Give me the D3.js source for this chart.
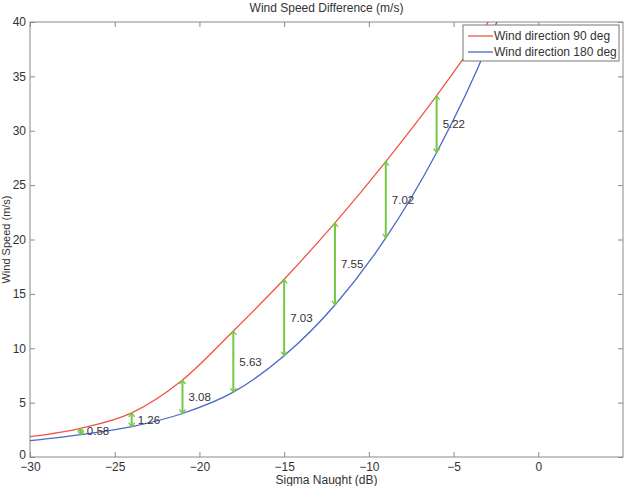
<!DOCTYPE html>
<html>
<head>
<meta charset="utf-8">
<script src="https://cdn.jsdelivr.net/npm/d3@7"></script>
<style>
  body { margin: 0; background: #fff; }
  text { font-family: "Liberation Sans", Arial, sans-serif; fill: #333; }
</style>
</head>
<body>
<div id="chart"></div>
<script>
// values
var sigma = [-30, -27, -24, -21, -18, -15, -12, -9, -6, -3, -2];
var speed90 = [1.87, 2.64, 4.05, 7.08, 11.59, 16.34, 21.53, 27.16, 33.22, 39.9, 42.3];
var speed180 = [1.50, 2.06, 2.79, 4.00, 5.96, 9.31, 13.98, 20.14, 28.0, 37.85, 41.8];
var arrowX = [-27, -24, -21, -18, -15, -12, -9, -6];
var diffLabels = ["0.58", "1.26", "3.08", "5.63", "7.03", "7.55", "7.02", "5.22"];
var xTicks = [-30, -25, -20, -15, -10, -5, 0];
var yTicks = [0, 5, 10, 15, 20, 25, 30, 35, 40];
var seriesNames = ["Wind direction 90 deg", "Wind direction 180 deg"];
var seriesColors = ["#ef5545", "#4a68c8"];

var W = 629, H = 486;
var margin = { top: 22, right: 6, bottom: 29, left: 30 },
    width = W - margin.left - margin.right,
    height = H - margin.top - margin.bottom;

var root = d3.select("#chart").append("svg")
    .attr("width", W)
    .attr("height", H);

var svg = root.append("g")
    .attr("transform", `translate(${margin.left},${margin.top})`);

var x = d3.scaleLinear().domain([-30, 5]).range([0, width]);
var y = d3.scaleLinear().domain([0, 40]).range([height, 0]);

svg.append("clipPath").attr("id", "clip")
    .append("rect").attr("width", width).attr("height", height);

// Axes (matlab style: inward ticks on all four sides)
var axisColor = "#8a8a8a";
function styleAxis(g) {
    g.select(".domain").remove();
    g.selectAll(".tick line").attr("stroke", axisColor);
    g.selectAll(".tick text").style("font-size", "12px").attr("fill", "#333");
}
svg.append("g")
    .attr("transform", `translate(0,${height})`)
    .call(d3.axisBottom(x).tickValues(xTicks).tickSizeInner(-5).tickSizeOuter(0).tickPadding(5))
    .call(styleAxis);
svg.append("g")
    .call(d3.axisTop(x).tickValues(xTicks).tickSizeInner(-5).tickSizeOuter(0).tickFormat(""))
    .call(styleAxis);
var yAxisG = svg.append("g")
    .call(d3.axisLeft(y).tickValues(yTicks).tickSizeInner(-5).tickSizeOuter(0).tickPadding(4))
    .call(styleAxis);
// lift the "0" a little so it sits above "-30" as in the original
yAxisG.selectAll(".tick text").filter(d => d === 0).attr("dy", "0.1em");
svg.append("g")
    .attr("transform", `translate(${width},0)`)
    .call(d3.axisRight(y).tickValues(yTicks).tickSizeInner(-5).tickSizeOuter(0).tickFormat(""))
    .call(styleAxis);

svg.append("rect")
    .attr("width", width).attr("height", height)
    .attr("fill", "none").attr("stroke", axisColor).attr("stroke-width", 1);

// Curves
var line = d3.line()
    .x(d => x(d[0]))
    .y(d => y(d[1]))
    .curve(d3.curveMonotoneX);

[speed90, speed180].forEach(function (vals, i) {
    svg.append("path")
        .datum(sigma.map((s, k) => [s, vals[k]]))
        .attr("clip-path", "url(#clip)")
        .attr("fill", "none")
        .attr("stroke", seriesColors[i])
        .attr("stroke-width", 1.3)
        .attr("d", line);
});

// Difference arrows
var green = "#74c944";
arrowX.forEach(function (ax, i) {
    var k = sigma.indexOf(ax);
    var px = x(ax), yTop = y(speed90[k]), yBot = y(speed180[k]);
    var g = svg.append("g").attr("stroke", green).attr("fill", "none");
    g.append("line")
        .attr("x1", px).attr("x2", px)
        .attr("y1", yTop).attr("y2", yBot)
        .attr("stroke-width", 2);
    g.append("path")
        .attr("d", `M${px - 3},${yTop + 4}L${px},${yTop}L${px + 3},${yTop + 4}`)
        .attr("stroke-width", 1.3);
    g.append("path")
        .attr("d", `M${px - 3},${yBot - 4}L${px},${yBot}L${px + 3},${yBot - 4}`)
        .attr("stroke-width", 1.3);
    svg.append("text")
        .attr("x", px + 6)
        .attr("y", (yTop + yBot) / 2)
        .attr("dy", "0.35em")
        .style("font-size", "11.5px")
        .text(diffLabels[i]);
});

// Legend
var legend = svg.append("g")
    .attr("transform", `translate(${463 - margin.left},${25 - margin.top})`);
legend.append("rect")
    .attr("width", 156).attr("height", 36)
    .attr("fill", "#fff").attr("stroke", "#777").attr("stroke-width", 1);
seriesNames.forEach(function (name, i) {
    var ly = 11 + i * 16;
    legend.append("line")
        .attr("x1", 5).attr("x2", 30)
        .attr("y1", ly).attr("y2", ly)
        .attr("stroke", seriesColors[i]).attr("stroke-width", 1.3);
    legend.append("text")
        .attr("x", 31).attr("y", ly).attr("dy", "0.35em")
        .style("font-size", "12px")
        .text(name);
});

// Titles
root.append("text")
    .attr("x", margin.left + width / 2).attr("y", 12)
    .attr("text-anchor", "middle")
    .style("font-size", "12px")
    .text("Wind Speed Difference (m/s)");
root.append("text")
    .attr("x", margin.left + width / 2).attr("y", 484)
    .attr("text-anchor", "middle")
    .style("font-size", "12px")
    .text("Sigma Naught (dB)");
root.append("text")
    .attr("transform", `translate(10,${margin.top + height / 2}) rotate(-90)`)
    .attr("text-anchor", "middle")
    .style("font-size", "11px")
    .text("Wind Speed (m/s)");
</script>
</body>
</html>
